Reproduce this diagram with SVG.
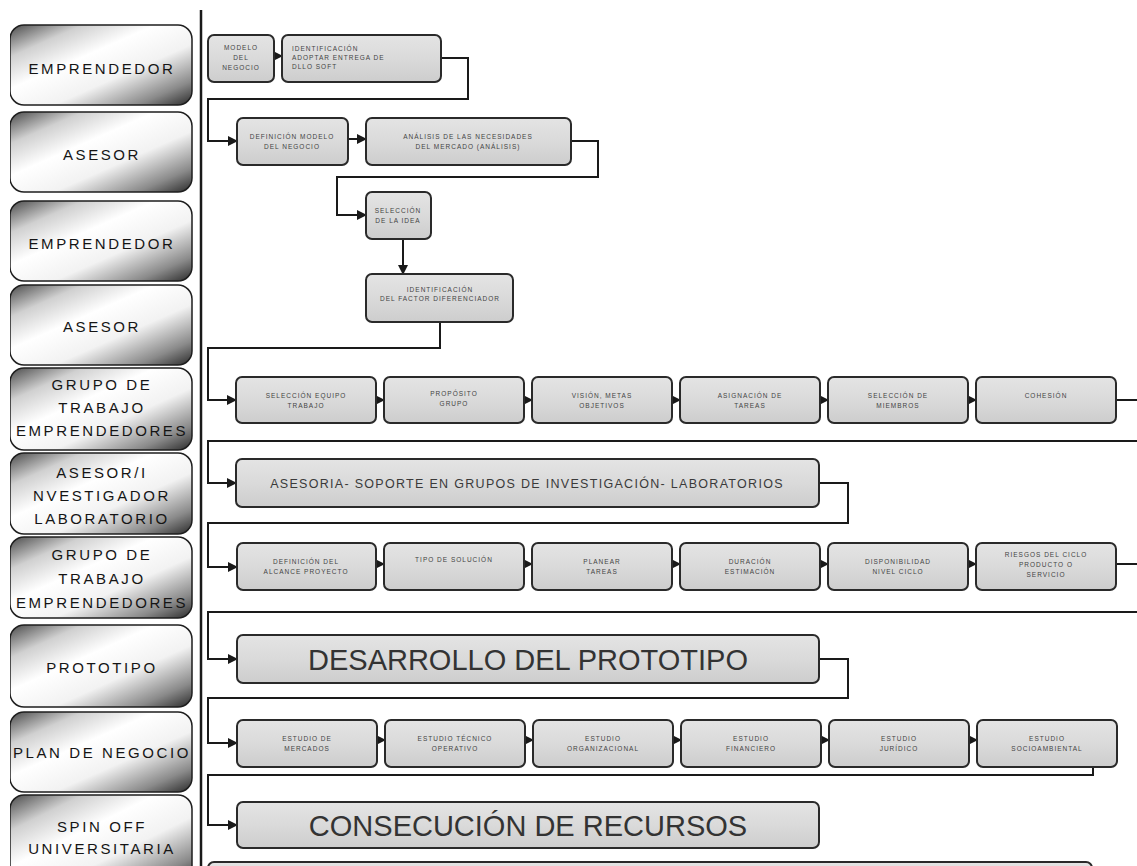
<svg xmlns="http://www.w3.org/2000/svg" width="1137" height="866" viewBox="0 0 1137 866">
<defs>
<linearGradient id="metal" x1="0" y1="0" x2="1" y2="1">
<stop offset="0" stop-color="#4a4a4a"/>
<stop offset="0.2" stop-color="#d0d0d0"/>
<stop offset="0.4" stop-color="#ffffff"/>
<stop offset="0.62" stop-color="#f2f2f2"/>
<stop offset="0.85" stop-color="#8a8a8a"/>
<stop offset="1" stop-color="#2a2a2a"/>
</linearGradient>
<linearGradient id="boxfill" x1="0" y1="0" x2="0" y2="1">
<stop offset="0" stop-color="#e4e4e4"/>
<stop offset="0.5" stop-color="#dadada"/>
<stop offset="1" stop-color="#cdcdcd"/>
</linearGradient>
<marker id="arr" viewBox="0 0 10 10" refX="9" refY="5" markerWidth="5" markerHeight="5" orient="auto" markerUnits="strokeWidth">
<path d="M0 0 L10 5 L0 10 Z" fill="#1a1a1a"/>
</marker>
<clipPath id="lc"><rect x="10" y="0" width="183" height="866"/></clipPath>
</defs>
<style>
.lane{fill:url(#metal);stroke:#1e1e1e;stroke-width:1.5}
.lt{font-family:"Liberation Sans",Arial,sans-serif;font-size:15px;fill:#151515;text-anchor:middle;letter-spacing:2.6px}
.box{fill:url(#boxfill);stroke:#2a2a2a;stroke-width:2}
.st{font-family:"Liberation Sans",Arial,sans-serif;font-size:6.5px;fill:#444;text-anchor:middle;letter-spacing:1px}
.mt{font-family:"Liberation Sans",Arial,sans-serif;font-size:12.5px;fill:#3a3a3a;text-anchor:middle;letter-spacing:1.3px}
.bt{font-family:"Liberation Sans",Arial,sans-serif;font-size:29px;fill:#333;text-anchor:middle}
.c{fill:none;stroke:#1a1a1a;stroke-width:2}
.ca{fill:none;stroke:#1a1a1a;stroke-width:2;marker-end:url(#arr)}
</style>
<rect width="1137" height="866" fill="#ffffff"/>

<g id="lanes" clip-path="url(#lc)">
<g id="lane1"><rect class="lane" x="10" y="25" width="182" height="80" rx="14"/><text class="lt" x="102" y="74">EMPRENDEDOR</text></g>
<g id="lane2"><rect class="lane" x="10" y="112" width="182" height="80" rx="14"/><text class="lt" x="102" y="160">ASESOR</text></g>
<g id="lane3"><rect class="lane" x="10" y="201" width="182" height="80" rx="14"/><text class="lt" x="102" y="249">EMPRENDEDOR</text></g>
<g id="lane4"><rect class="lane" x="10" y="285" width="182" height="80" rx="14"/><text class="lt" x="102" y="332">ASESOR</text></g>
<g id="lane5"><rect class="lane" x="10" y="368" width="182" height="82" rx="14"/><text class="lt" x="102" y="390">GRUPO DE</text><text class="lt" x="102" y="413">TRABAJO</text><text class="lt" x="102" y="436">EMPRENDEDORES</text></g>
<g id="lane6"><rect class="lane" x="10" y="453" width="182" height="81" rx="14"/><text class="lt" x="102" y="478">ASESOR/I</text><text class="lt" x="102" y="501">NVESTIGADOR</text><text class="lt" x="102" y="524">LABORATORIO</text></g>
<g id="lane7"><rect class="lane" x="10" y="537" width="182" height="81" rx="14"/><text class="lt" x="102" y="560">GRUPO DE</text><text class="lt" x="102" y="584">TRABAJO</text><text class="lt" x="102" y="608">EMPRENDEDORES</text></g>
<g id="lane8"><rect class="lane" x="10" y="625" width="182" height="82" rx="14"/><text class="lt" x="102" y="673">PROTOTIPO</text></g>
<g id="lane9"><rect class="lane" x="10" y="712" width="182" height="80" rx="14"/><text class="lt" x="102" y="758">PLAN DE NEGOCIO</text></g>
<g id="lane10"><rect class="lane" x="10" y="795" width="182" height="90" rx="14"/><text class="lt" x="102" y="832">SPIN OFF</text><text class="lt" x="102" y="854">UNIVERSITARIA</text></g>
</g>

<line x1="201" y1="10" x2="201" y2="866" stroke="#1a1a1a" stroke-width="2.5"/>

<g id="connectors">
<path class="ca" d="M274 56 H282"/>
<path class="ca" d="M441 58 H468 V99 H208 V141 H237"/>
<path class="ca" d="M348 139 H366"/>
<path class="ca" d="M571 141 H598 V177 H337 V215 H366"/>
<path class="ca" d="M403 239 V274"/>
<path class="ca" d="M440 322 V348 H208 V400 H236"/>
<path class="ca" d="M376 400 H384"/>
<path class="ca" d="M524 400 H532"/>
<path class="ca" d="M672 400 H680"/>
<path class="ca" d="M820 400 H828"/>
<path class="ca" d="M968 400 H976"/>
<path class="ca" d="M1116 400 H1150 V441 H208 V483 H236"/>
<path class="ca" d="M819 483 H848 V523 H208 V567 H237"/>
<path class="ca" d="M376 564 H384"/>
<path class="ca" d="M524 564 H532"/>
<path class="ca" d="M672 564 H680"/>
<path class="ca" d="M820 564 H828"/>
<path class="ca" d="M968 564 H976"/>
<path class="ca" d="M1116 564 H1150 V612 H208 V659 H237"/>
<path class="ca" d="M819 659 H848 V698 H208 V743 H237"/>
<path class="ca" d="M377 740 H385"/>
<path class="ca" d="M525 740 H533"/>
<path class="ca" d="M673 740 H681"/>
<path class="ca" d="M821 740 H829"/>
<path class="ca" d="M969 740 H977"/>
<path class="ca" d="M1093 767 V775 H208 V825 H237"/>
</g>

<g id="n1"><rect class="box" x="208" y="35" width="66" height="47" rx="6"/><text class="st" x="241" y="50">MODELO</text><text class="st" x="241" y="60">DEL</text><text class="st" x="241" y="70">NEGOCIO</text></g>
<g id="n2"><rect class="box" x="282" y="35" width="159" height="47" rx="6"/><text class="st" x="292" y="51" style="text-anchor:start">IDENTIFICACIÓN</text><text class="st" x="292" y="60" style="text-anchor:start">ADOPTAR ENTREGA DE</text><text class="st" x="292" y="69" style="text-anchor:start">DLLO SOFT</text></g>
<g id="n3"><rect class="box" x="237" y="118" width="111" height="47" rx="6"/><text class="st" x="292" y="139">DEFINICIÓN MODELO</text><text class="st" x="292" y="149">DEL NEGOCIO</text></g>
<g id="n4"><rect class="box" x="366" y="118" width="205" height="47" rx="6"/><text class="st" x="468" y="139">ANÁLISIS DE LAS NECESIDADES</text><text class="st" x="468" y="149">DEL MERCADO (ANÁLISIS)</text></g>
<g id="n5"><rect class="box" x="366" y="192" width="65" height="47" rx="6"/><text class="st" x="398" y="213">SELECCIÓN</text><text class="st" x="398" y="223">DE LA IDEA</text></g>
<g id="n6"><rect class="box" x="366" y="274" width="147" height="48" rx="6"/><text class="st" x="440" y="292">IDENTIFICACIÓN</text><text class="st" x="440" y="301">DEL FACTOR DIFERENCIADOR</text></g>

<g id="r1a"><rect class="box" x="236" y="377" width="140" height="46" rx="6"/><text class="st" x="306" y="398">SELECCIÓN EQUIPO</text><text class="st" x="306" y="408">TRABAJO</text></g>
<g id="r1b"><rect class="box" x="384" y="377" width="140" height="46" rx="6"/><text class="st" x="454" y="396">PROPÓSITO</text><text class="st" x="454" y="406">GRUPO</text></g>
<g id="r1c"><rect class="box" x="532" y="377" width="140" height="46" rx="6"/><text class="st" x="602" y="398">VISIÓN, METAS</text><text class="st" x="602" y="408">OBJETIVOS</text></g>
<g id="r1d"><rect class="box" x="680" y="377" width="140" height="46" rx="6"/><text class="st" x="750" y="398">ASIGNACIÓN DE</text><text class="st" x="750" y="408">TAREAS</text></g>
<g id="r1e"><rect class="box" x="828" y="377" width="140" height="46" rx="6"/><text class="st" x="898" y="398">SELECCIÓN DE</text><text class="st" x="898" y="408">MIEMBROS</text></g>
<g id="r1f"><rect class="box" x="976" y="377" width="140" height="46" rx="6"/><text class="st" x="1046" y="398">COHESIÓN</text></g>

<g id="m1"><rect class="box" x="236" y="459" width="583" height="48" rx="6"/><text class="mt" x="527" y="488">ASESORIA- SOPORTE EN GRUPOS DE INVESTIGACIÓN- LABORATORIOS</text></g>

<g id="r2a"><rect class="box" x="237" y="543" width="139" height="47" rx="6"/><text class="st" x="306" y="564">DEFINICIÓN DEL</text><text class="st" x="306" y="574">ALCANCE PROYECTO</text></g>
<g id="r2b"><rect class="box" x="384" y="543" width="140" height="47" rx="6"/><text class="st" x="454" y="562">TIPO DE SOLUCIÓN</text></g>
<g id="r2c"><rect class="box" x="532" y="543" width="140" height="47" rx="6"/><text class="st" x="602" y="564">PLANEAR</text><text class="st" x="602" y="574">TAREAS</text></g>
<g id="r2d"><rect class="box" x="680" y="543" width="140" height="47" rx="6"/><text class="st" x="750" y="564">DURACIÓN</text><text class="st" x="750" y="574">ESTIMACIÓN</text></g>
<g id="r2e"><rect class="box" x="828" y="543" width="140" height="47" rx="6"/><text class="st" x="898" y="564">DISPONIBILIDAD</text><text class="st" x="898" y="574">NIVEL CICLO</text></g>
<g id="r2f"><rect class="box" x="976" y="543" width="140" height="47" rx="6"/><text class="st" x="1046" y="557">RIESGOS DEL CICLO</text><text class="st" x="1046" y="567">PRODUCTO O</text><text class="st" x="1046" y="577">SERVICIO</text></g>

<g id="m2"><rect class="box" x="237" y="635" width="582" height="48" rx="6"/><text class="bt" x="528" y="670">DESARROLLO DEL PROTOTIPO</text></g>

<g id="r3a"><rect class="box" x="237" y="720" width="140" height="47" rx="6"/><text class="st" x="307" y="741">ESTUDIO DE</text><text class="st" x="307" y="751">MERCADOS</text></g>
<g id="r3b"><rect class="box" x="385" y="720" width="140" height="47" rx="6"/><text class="st" x="455" y="741">ESTUDIO TÉCNICO</text><text class="st" x="455" y="751">OPERATIVO</text></g>
<g id="r3c"><rect class="box" x="533" y="720" width="140" height="47" rx="6"/><text class="st" x="603" y="741">ESTUDIO</text><text class="st" x="603" y="751">ORGANIZACIONAL</text></g>
<g id="r3d"><rect class="box" x="681" y="720" width="140" height="47" rx="6"/><text class="st" x="751" y="741">ESTUDIO</text><text class="st" x="751" y="751">FINANCIERO</text></g>
<g id="r3e"><rect class="box" x="829" y="720" width="140" height="47" rx="6"/><text class="st" x="899" y="741">ESTUDIO</text><text class="st" x="899" y="751">JURÍDICO</text></g>
<g id="r3f"><rect class="box" x="977" y="720" width="140" height="47" rx="6"/><text class="st" x="1047" y="741">ESTUDIO</text><text class="st" x="1047" y="751">SOCIOAMBIENTAL</text></g>

<g id="m3"><rect class="box" x="237" y="802" width="582" height="46" rx="6"/><text class="bt" x="528" y="836">CONSECUCIÓN DE RECURSOS</text></g>

<g id="m4"><rect class="box" x="208" y="862" width="884" height="40" rx="6"/></g>
</svg>
